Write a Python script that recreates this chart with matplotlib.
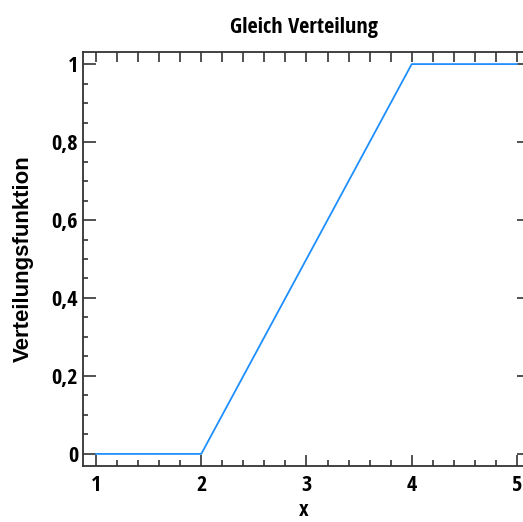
import matplotlib
matplotlib.use('Agg')
import matplotlib.pyplot as plt
from matplotlib.ticker import MultipleLocator

# CDF of the uniform distribution on [2, 4]
x_vals = [1, 2, 4, 5]
cdf_vals = [0, 0, 1, 1]

x_ticks = [1, 2, 3, 4, 5]
x_tick_labels = ['1', '2', '3', '4', '5']
y_ticks = [0, 0.2, 0.4, 0.6, 0.8, 1]
y_tick_labels = ['0', '0,2', '0,4', '0,6', '0,8', '1']

plt.rcParams['font.family'] = ['Open Sans Condensed', 'Liberation Sans', 'DejaVu Sans']
plt.rcParams['font.weight'] = 'bold'

fig = plt.figure(figsize=(5.23, 5.22), dpi=100)
ax = fig.add_axes([83 / 523, 1 - 466 / 522, (524 - 83) / 523, (466 - 52) / 522])

ax.plot(x_vals, cdf_vals, color='#1E8FFF', linewidth=1.3)

ax.set_xlim(0.876, 5.067)
ax.set_ylim(-0.031, 1.031)

ax.set_xticks(x_ticks)
ax.set_xticklabels(x_tick_labels)
ax.set_yticks(y_ticks)
ax.set_yticklabels(y_tick_labels)
ax.xaxis.set_minor_locator(MultipleLocator(0.2))
ax.yaxis.set_minor_locator(MultipleLocator(0.05))

ax.tick_params(which='both', direction='in', color='#333333', width=1.2)
ax.tick_params(axis='x', which='major', length=8, labelsize=16, pad=6.5)
ax.tick_params(axis='x', which='minor', length=4)
ax.tick_params(axis='y', which='major', length=9, labelsize=16, pad=3.5)
ax.tick_params(axis='y', which='minor', length=3.5)

# top: major and minor ticks of equal length, no labels
top = ax.secondary_xaxis('top')
top.set_xticks(x_ticks)
top.set_xticklabels([])
top.xaxis.set_minor_locator(MultipleLocator(0.2))
top.tick_params(which='both', direction='in', length=7, color='#333333', width=1.2)
top.spines['top'].set_color('#333333')
top.spines['top'].set_linewidth(1.3)

# right: only short major ticks, no spine
right = ax.secondary_yaxis('right')
right.set_yticks(y_ticks)
right.set_yticklabels([])
right.tick_params(which='major', direction='in', length=5, color='#333333', width=1.2)
right.tick_params(which='minor', length=0)
right.spines['right'].set_visible(False)

for side in ['left', 'bottom']:
    ax.spines[side].set_color('#333333')
    ax.spines[side].set_linewidth(1.3)
ax.spines['top'].set_visible(False)
ax.spines['right'].set_visible(False)

ax.set_title('Gleich Verteilung', fontsize=16, fontweight='bold', pad=14)
ax.set_xlabel('x', fontsize=16, fontweight='bold', labelpad=3)
# vertical label is not squeezed in the reference, so a normal-width face
ax.set_ylabel('Verteilungsfunktion', family='Liberation Sans', fontsize=16,
              fontweight='bold', labelpad=13)

fig.savefig('out.png', dpi=100)
